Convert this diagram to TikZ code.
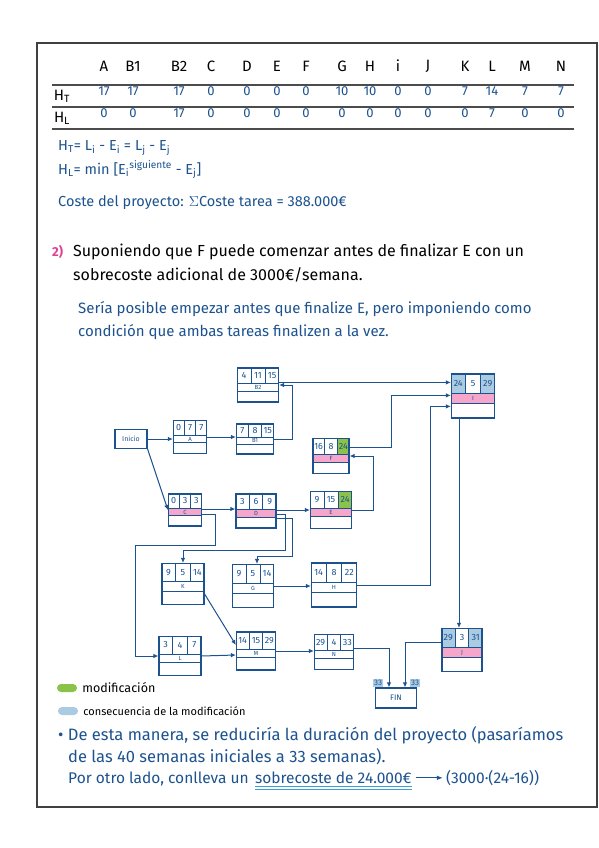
\documentclass[tikz,border=0pt]{standalone}
\usepackage{fontspec}
\setmainfont{Fira Sans}
\usepackage{tikz}
\usetikzlibrary{arrows.meta,positioning,calc}

\definecolor{tinta}{RGB}{28,82,142}
\definecolor{rosa}{RGB}{246,166,203}
\definecolor{verde}{RGB}{139,195,74}
\definecolor{celeste}{RGB}{170,203,226}
\definecolor{subrayado}{RGB}{60,160,215}
\definecolor{magenta2}{RGB}{222,64,150}

\pgfdeclarelayer{fondo}
\pgfsetlayers{fondo,main}

% casilla de tarea: inicio | duracion | fin, nombre, fila vacia
\newcommand{\tarea}[7]{%
  \node[tarea, #1] (#2) at (#3) {};
  \coordinate (#2-1) at ($(#2.north west)!1/3!(#2.north east)$);
  \coordinate (#2-2) at ($(#2.north west)!2/3!(#2.north east)$);
  \coordinate (#2-f) at ($(#2.north west)!0.45!(#2.south west)$);
  \coordinate (#2-g) at ($(#2.north west)!0.67!(#2.south west)$);
  \draw[linea] (#2-f) -- (#2-f -| #2.east) (#2-g) -- (#2-g -| #2.east)
    (#2-1) -- (#2-1 |- #2-f) (#2-2) -- (#2-2 |- #2-f);
  \node[num] (#2-es) at ($(#2.north west)!0.5!(#2-1 |- #2-f)$) {#4};
  \node[num] (#2-d) at ($(#2-1)!0.5!(#2-2 |- #2-f)$) {#5};
  \node[num] (#2-ef) at ($(#2-2)!0.5!(#2-f -| #2.east)$) {#6};
  \node[etiq] (#2-nom) at ($(#2-f)!0.5!(#2-g -| #2.east)$) {#7};
}
% rellenos (capa de fondo)
\newcommand{\critica}[1]{\begin{pgfonlayer}{fondo}
  \fill[rosa] (#1-f) rectangle (#1-g -| #1.east);\end{pgfonlayer}}
\newcommand{\modif}[1]{\begin{pgfonlayer}{fondo}
  \fill[verde] (#1-2) rectangle (#1-f -| #1.east);\end{pgfonlayer}}
\newcommand{\consec}[1]{\begin{pgfonlayer}{fondo}
  \fill[celeste] (#1.north west) rectangle (#1-1 |- #1-f);
  \fill[celeste] (#1-2) rectangle (#1-f -| #1.east);\end{pgfonlayer}}

\begin{document}
\begin{tikzpicture}[x=1pt, y=-1pt,
  texto/.style={inner sep=0pt, anchor=west},
  negro/.style={texto, text=black, font=\fontsize{16}{19}\selectfont},
  azul/.style={texto, text=tinta, font=\fontsize{15}{18}\selectfont},
  formula/.style={texto, text=tinta, font=\fontsize{14.5}{17}\selectfont},
  cab/.style={inner sep=0pt, text=black, font=\fontsize{15}{17}\selectfont},
  valor/.style={inner sep=0pt, text=tinta, font=\fontsize{13}{15}\selectfont},
  regla/.style={draw=black!70, line width=1.2pt},
  tarea/.style={draw=tinta, line width=1.2pt, inner sep=0pt},
  medida/.style 2 args={minimum width=#1pt, minimum height=#2pt},
  linea/.style={draw=tinta, line width=0.9pt},
  num/.style={inner sep=0pt, text=tinta, font=\fontsize{9}{10}\selectfont},
  etiq/.style={inner sep=0pt, text=tinta, font=\fontsize{6}{6}\selectfont},
  extremo/.style={draw=tinta, line width=1.2pt, inner sep=0pt, text=tinta},
  flecha/.style={-{Latex[length=5pt,width=4.5pt]}, draw=tinta, line width=1pt},
  mancha/.style={rounded corners=4pt, minimum width=20pt, minimum height=8pt, inner sep=0pt}]
\useasboundingbox (0,0) rectangle (599,848);
\draw[black!75, line width=1.4pt] (37,43) rectangle (597,807);

% tabla de holguras
\foreach \t/\x/\ht/\hl in {A/104/17/0, B1/133/17/0, B2/179/17/17, C/211/0/0,
    D/247/0/0, E/277/0/0, F/306/0/0, G/342/10/0, H/370/10/0, i/398/0/0,
    J/428/0/0, K/465/7/0, L/492/14/7, M/525/7/0, N/561/7/0} {
  \node[cab] (cab-\t) at (\x,72) {\t};
  \node[valor] (ht-\t) at (\x,96) {\ht};
  \node[valor] (hl-\t) at (\x,118) {\hl};
}
\node[cab] (ht) at (62,96) {H\textsubscript{T}};
\node[cab] (hl) at (62,118) {H\textsubscript{L}};
\draw[regla] (52,85) -- (574,85);
\draw[regla] (52,107) -- (574,107);
\draw[regla] (52,129) -- (574,129);

\node[formula] (f1) at (58,148) {H\textsubscript{T}= L\textsubscript{i} - E\textsubscript{i} = L\textsubscript{j} - E\textsubscript{j}};
\node[formula] (f2) at (58,170) {H\textsubscript{L}= min [E\textsubscript{i}\textsuperscript{siguiente} - E\textsubscript{j}]};
\node[formula] (f3) at (58,203) {Coste del proyecto: $\Sigma$Coste tarea = 388.000€};

% apartado 2
\node[texto, text=magenta2, font=\bfseries\fontsize{13}{15}\selectfont] (n2) at (52,252) {2)};
\node[negro] (enun1) at (73,252) {Suponiendo que F puede comenzar antes de finalizar E con un};
\node[negro] (enun2) at (73,275) {sobrecoste adicional de 3000€/semana.};
\node[azul] (resp1) at (78,309) {Sería posible empezar antes que finalize E, pero imponiendo como};
\node[azul] (resp2) at (78,332) {condición que ambas tareas finalizen a la vez.};

% red de tareas
\node[extremo, medida={32}{19}, font=\fontsize{7}{8}\selectfont] (inicio) at (131,439) {Inicio};
\tarea{medida={33}{33}}{A}{190,437}{0}{7}{7}{A}
\tarea{medida={37}{30}}{B1}{255,439}{7}{8}{15}{B1}
\tarea{medida={41}{34}}{B2}{258,385}{4}{11}{15}{B2}
\tarea{medida={43}{44}}{I}{473,396}{24}{5}{29}{I}
\tarea{medida={36}{35}}{F}{331,456}{16}{8}{24}{F}
\tarea{medida={33}{32}}{C}{185,510}{0}{3}{3}{C}
\tarea{medida={40}{34}}{D}{256,511}{3}{6}{9}{D}
\tarea{medida={41}{37}}{E}{331,510}{9}{15}{24}{E}
\tarea{medida={42}{41}}{K}{183,584}{9}{5}{14}{K}
\tarea{medida={41}{43}}{G}{253,586}{9}{5}{14}{G}
\tarea{medida={45}{44}}{H}{334,585}{14}{8}{22}{H}
\tarea{medida={42}{39}}{L}{180,656}{3}{4}{7}{L}
\tarea{medida={39}{38}}{M}{256,651}{14}{15}{29}{M}
\tarea{medida={39}{35}}{N}{334,652}{29}{4}{33}{N}
\tarea{medida={40}{43}}{J}{462,650}{29}{3}{31}{J}
\node[extremo, medida={41}{20}, font=\fontsize{8}{9}\selectfont] (fin) at (396,698) {FIN};
\critica{C} \critica{D} \critica{E} \critica{F} \critica{I} \critica{J}
\modif{E} \modif{F}
\consec{I} \consec{J}

\draw[flecha] (inicio.east) -- (inicio.east -| A.west);
\draw[flecha] (inicio.south east) -- (C.west);
\draw[flecha] (A.east) -- (A.east -| B1.west);
\draw[flecha] (B1.east) -- ++(18,0) |- (B2.east);
\draw[flecha] ([yshift=-15pt]B2.north east) -- ([yshift=-9pt]I.north west);
\draw[flecha] ([yshift=-10pt]F.north east) -- ++(42,0) |- ([yshift=-22pt]I.north west);
\draw[flecha] (H.east) -- ++(73,0) |- ([yshift=-33pt]I.north west);
\draw[flecha] (E.east) -- ++(21,0) |- (F.east);
\draw[flecha] ([yshift=1pt]C.east) -- ([yshift=1pt]C.east -| D.west);
\draw[flecha] ([yshift=1pt]D.east) -- ([yshift=1pt]D.east -| E.west);
\draw[flecha] ([yshift=-4pt]C.east) -| ++(13,31) -| ([xshift=-23pt]L.west) -- (L.west);
\draw[flecha] ([yshift=-3pt]D.east) -| ++(9,36) -| (K.north);
\draw[flecha] ([yshift=-7pt]D.east) -| ++(16,38) -| ([xshift=4pt]G.north);
\draw[flecha] ([yshift=-10pt]K.east) -- ([yshift=6pt]M.west);
\draw[flecha] (L.east) -- ([yshift=-4pt]M.west);
\draw[flecha] (G.east) -- (G.east -| H.west);
\draw[flecha] (M.east) -- (M.east -| N.west);
\draw[flecha] ([yshift=4pt]N.east) -| ([xshift=-7pt]fin.north);
\draw[flecha] ([yshift=8pt]J.west) -| ([xshift=9pt]fin.north);
\draw[flecha] ([xshift=-14pt]I.south) -- ([xshift=-3pt]J.north);

\node[valor, fill=celeste, inner sep=1pt, font=\fontsize{8}{9}\selectfont] (t1) at (378,683) {33};
\node[valor, fill=celeste, inner sep=1pt, font=\fontsize{8}{9}\selectfont] (t2) at (415,683) {33};

% leyenda
\node[mancha, fill=verde] (leyv) at (67,688) {};
\node[texto, text=black, font=\fontsize{12.5}{15}\selectfont, right=5pt of leyv] (leyv-t) {modificación};
\node[mancha, fill=celeste] (leyc) at (68,711) {};
\node[texto, text=black, font=\fontsize{11}{13}\selectfont, right=5pt of leyc] (leyc-t) {consecuencia de la modificación};

% conclusion
\node[azul, font=\fontsize{16.5}{19}\selectfont] (concl1) at (58,735) {• De esta manera, se reduciría la duración del proyecto (pasaríamos};
\node[azul, font=\fontsize{16.5}{19}\selectfont] (concl2) at (68,757) {de las 40 semanas iniciales a 33 semanas).};
\node[azul, font=\fontsize{15.5}{19}\selectfont] (concl3) at (68,779) {Por otro lado, conlleva un};
\node[azul, font=\fontsize{15.5}{19}\selectfont, anchor=base west] (sobre) at ([xshift=6pt]concl3.base east) {sobrecoste de 24.000€};
\node[azul, font=\fontsize{15.5}{19}\selectfont, right=34pt of sobre] (calc) {(3000·(24-16))};
\draw[subrayado, line width=1pt] ([yshift=-3pt]sobre.south west) -- ([yshift=-3pt]sobre.south east);
\draw[subrayado, line width=1pt] ([yshift=-6pt]sobre.south west) -- ([yshift=-6pt]sobre.south east);
\draw[-{Latex[length=6pt]}, tinta, line width=0.9pt] ([xshift=4pt]sobre.east) -- ([xshift=-3pt]calc.west);
\end{tikzpicture}
\end{document}
